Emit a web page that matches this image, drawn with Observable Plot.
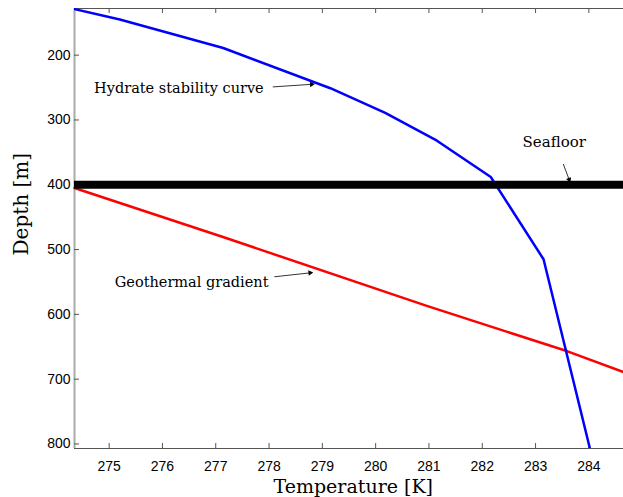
<!DOCTYPE html>
<html>
<head>
<meta charset="utf-8">
<script src="https://cdn.jsdelivr.net/npm/d3@7"></script>
<script src="https://cdn.jsdelivr.net/npm/@observablehq/plot@0.6"></script>
<style>
  html, body { margin: 0; padding: 0; background: #fff; }
  #chart svg { display: block; }
</style>
</head>
<body>
<div id="chart"></div>
<script>
// Hydrate stability curve (temperature K, depth m)
const hydrateT = [274.35, 275.2, 277.14, 279.15, 280.18, 281.15, 282.16, 283.15, 284.02];
const hydrateD = [129, 145, 189, 251, 289, 332, 388, 515, 807];
// Geothermal gradient
const geoT = [274.35, 277.15, 280.96, 283.6, 284.65];
const geoD = [405, 481, 587, 657, 689];
// Seafloor depth
const seafloorDepth = 400;
// Tick values
const xTicks = [275, 276, 277, 278, 279, 280, 281, 282, 283, 284];
const yTicks = [200, 300, 400, 500, 600, 700, 800];
// Annotations
const labelText = ["Hydrate stability curve", "Geothermal gradient", "Seafloor"];
const labelT = [277.9, 277.99, 283.35];
const labelD = [251.5, 550, 335];
const arrowT1 = [278.07, 278.10, 283.52];
const arrowD1 = [249, 542, 368];
const arrowT2 = [278.80, 278.77, 283.63];
const arrowD2 = [245, 536, 392];

const xDomain = [274.35, 284.65];
const yDomain = [128, 807];

const W = 623, H = 497;
const mL = 74, mR = 0, mT = 8, mB = 49;
const plotW = W - mL - mR, plotH = H - mT - mB;
const kx = plotW / (xDomain[1] - xDomain[0]);
const ky = plotH / (yDomain[1] - yDomain[0]);

const hydrate = hydrateT.map((t, i) => ({t, d: hydrateD[i]}));
const geo = geoT.map((t, i) => ({t, d: geoD[i]}));
const labels = labelText.map((s, i) => ({s, t: labelT[i], d: labelD[i]}));
const arrows = arrowT1.map((t, i) => {
  const t2 = arrowT2[i], d2 = arrowD2[i];
  const dxp = (t2 - t) * kx, dyp = (d2 - arrowD1[i]) * ky;
  return {t1: t, d1: arrowD1[i], t2, d2, rot: Math.atan2(dxp, -dyp) * 180 / Math.PI};
});

const serif = "'DejaVu Serif', serif";

const chart = Plot.plot({
  width: W, height: H,
  marginLeft: mL, marginRight: mR, marginTop: mT, marginBottom: mB,
  style: {fontFamily: "'Liberation Sans', Arial, sans-serif", fontSize: "14px", color: "#000", background: "#fff"},
  x: {domain: xDomain},
  y: {domain: yDomain, reverse: true},
  marks: [
    // frame lines
    Plot.ruleX([xDomain[0]], {stroke: "#aaa", strokeWidth: 2}),
    Plot.ruleY([yDomain[0]], {stroke: "#555", strokeWidth: 1}),
    Plot.ruleY([yDomain[1]], {stroke: "#555", strokeWidth: 1}),
    // inward ticks
    Plot.tickX(xTicks, {x: d => d, insetTop: plotH - 5, stroke: "#555"}),
    Plot.tickX(xTicks, {x: d => d, insetBottom: plotH - 5, stroke: "#555"}),
    Plot.tickY(yTicks, {y: d => d, insetRight: plotW - 5, stroke: "#555"}),
    // tick labels
    Plot.axisX(xTicks, {anchor: "bottom", tickSize: 0, tickPadding: 13, label: null, fontSize: 14}),
    Plot.axisY(yTicks, {anchor: "left", tickSize: 0, tickPadding: 4, label: null, fontSize: 14}),
    // data
    Plot.line(geo, {x: "t", y: "d", stroke: "#ff0000", strokeWidth: 2.5}),
    Plot.line(hydrate, {x: "t", y: "d", stroke: "#0000ff", strokeWidth: 2.5, clip: true}),
    Plot.ruleY([seafloorDepth], {stroke: "#000", strokeWidth: 8}),
    // annotations
    Plot.link(arrows, {x1: "t1", y1: "d1", x2: "t2", y2: "d2", stroke: "#000", strokeWidth: 0.8}),
    Plot.dot(arrows, {x: "t2", y: "d2", symbol: "triangle2", r: 2.6, fill: "#000", stroke: "none", rotate: "rot"}),
    Plot.text(labels.slice(0, 2), {x: "t", y: "d", text: "s", textAnchor: "end", fontFamily: serif, fontSize: 14.5, fill: "#000"}),
    Plot.text(labels.slice(2), {x: "t", y: "d", text: "s", textAnchor: "middle", fontFamily: serif, fontSize: 15, fill: "#000"}),
    // axis titles
    Plot.text(["Temperature [K]"], {x: 279.58, frameAnchor: "bottom", textAnchor: "middle", lineAnchor: "bottom", dy: 44, fontFamily: serif, fontSize: 19, fill: "#000"}),
    Plot.text(["Depth [m]"], {y: 430, frameAnchor: "left", textAnchor: "middle", lineAnchor: "middle", dx: -53, rotate: -90, fontFamily: serif, fontSize: 20, fill: "#000"})
  ]
});
document.getElementById("chart").appendChild(chart);
</script>
</body>
</html>
